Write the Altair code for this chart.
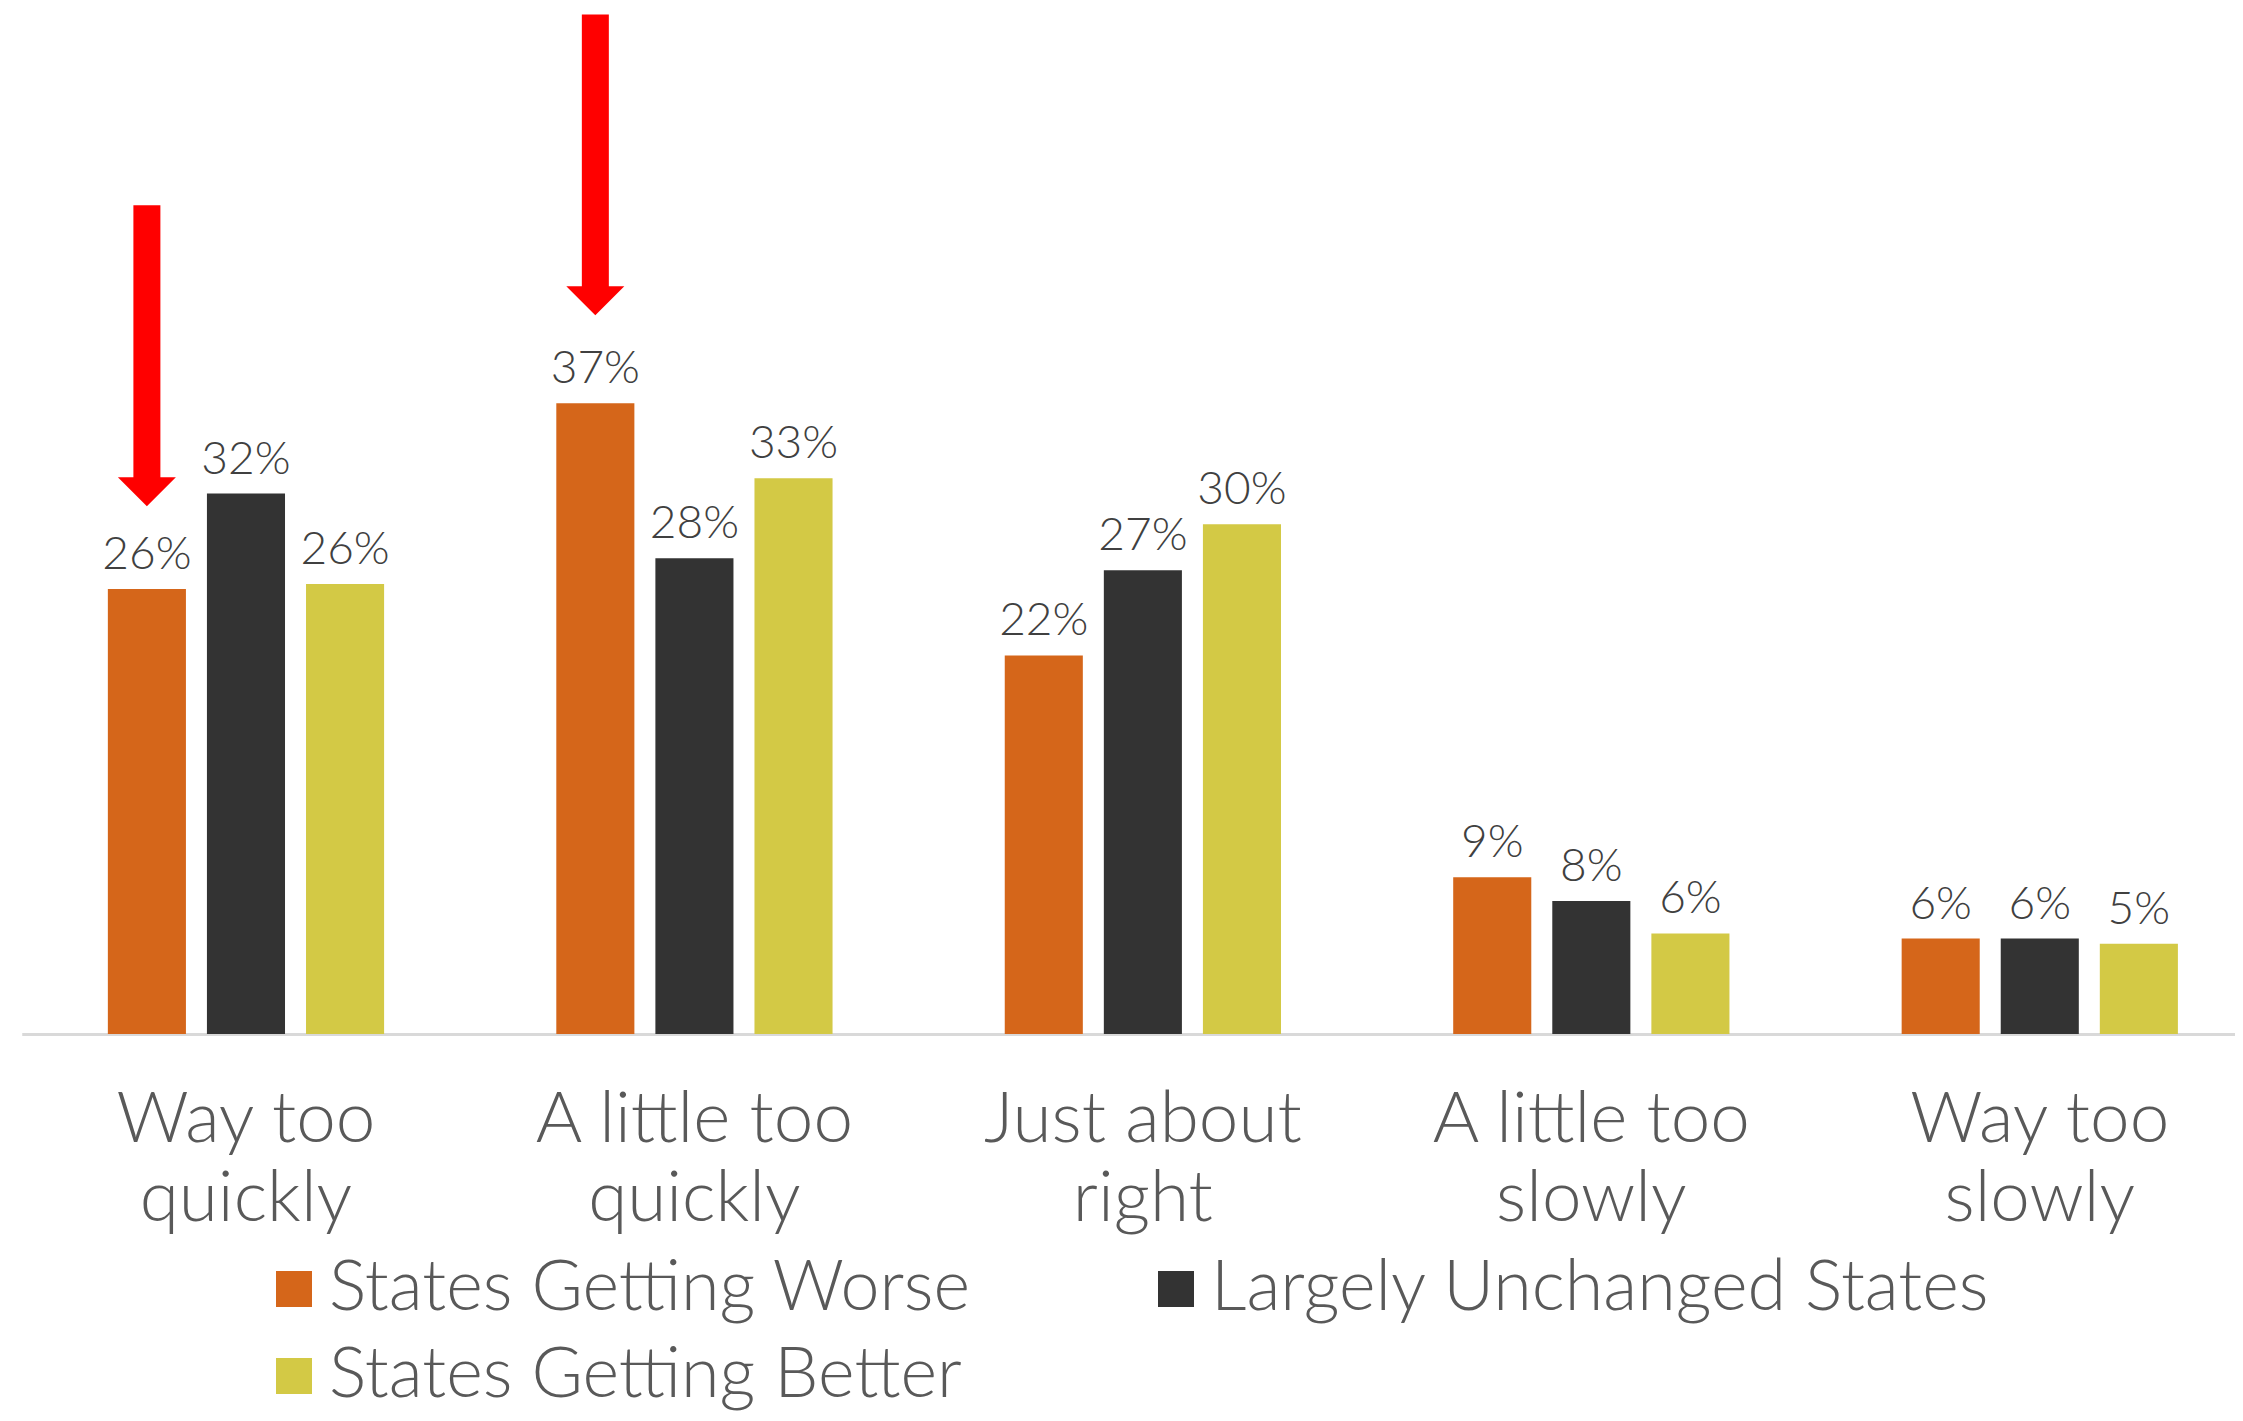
import altair as alt
import pandas as pd

categories = ["Way too quickly", "A little too quickly", "Just about right",
              "A little too slowly", "Way too slowly"]
series = ["States Getting Worse", "Largely Unchanged States", "States Getting Better"]
worse = [26.1, 37.0, 22.2, 9.2, 5.6]
unchanged = [31.7, 27.9, 27.2, 7.8, 5.6]
better = [26.4, 32.6, 29.9, 5.9, 5.3]
colors = ["#D5661A", "#333333", "#D3C945"]

# legend fills column by column: Worse, Better in the first column, Unchanged in the second
legend_order = ["States Getting Worse", "States Getting Better", "Largely Unchanged States"]
legend_colors = ["#D5661A", "#D3C945", "#333333"]

arrow_categories = ["Way too quickly", "A little too quickly"]
arrow_top = [48.6, 59.8]
arrow_shaft_end = [32.4, 43.6]
arrow_head = [31.8, 43.0]

rows = []
for s, vals in zip(series, [worse, unchanged, better]):
    for c, v in zip(categories, vals):
        rows.append({"category": c, "series": s, "value": v})
df = pd.DataFrame(rows)

arrows = pd.DataFrame({
    "category": arrow_categories,
    "series": [series[0]] * len(arrow_categories),
    "top": arrow_top,
    "end": arrow_shaft_end,
    "head": arrow_head,
})

FONT = "Lato"

x = alt.X(
    "category:N",
    sort=categories,
    scale=alt.Scale(domain=categories, range=[13.75, 2256], paddingInner=0.384, paddingOuter=0.192),
    axis=alt.Axis(
        title=None,
        labelAngle=0,
        ticks=False,
        labelExpr="[slice(datum.label, 0, lastindexof(datum.label, ' ')), slice(datum.label, lastindexof(datum.label, ' ') + 1)]",
        labelFont=FONT,
        labelFontSize=71,
        labelFontWeight=300,
        labelLineHeight=79,
        labelColor="#595959",
        labelPadding=51,
        domainColor="#D9D9D9",
        domainWidth=3,
        labelLimit=0,
    ),
)
xo = alt.XOffset("series:N", sort=series,
                 scale=alt.Scale(domain=series, paddingInner=0.212, paddingOuter=0))
y = alt.Y("value:Q", scale=alt.Scale(domain=[0, 60]), axis=None)

base = alt.Chart(df)

bars = base.mark_bar().encode(
    x=x,
    xOffset=xo,
    y=y,
    color=alt.Color(
        "series:N",
        scale=alt.Scale(domain=legend_order, range=legend_colors),
        legend=alt.Legend(
            title=None,
            orient="none",
            legendX=251,
            legendY=1243,
            columns=2,
            symbolType="square",
            symbolSize=1296,
            symbolStrokeWidth=0,
            symbolOpacity=1,
            labelFont=FONT,
            labelFontSize=70,
            labelFontWeight=300,
            labelColor="#595959",
            labelOffset=0,
            labelLimit=0,
            columnPadding=169,
            rowPadding=17,
            padding=0,
        ),
    ),
)

labels = base.mark_text(
    dy=-20, baseline="alphabetic", fontSize=46, font=FONT, fontWeight=300, color="#404040"
).transform_calculate(
    label="format(datum.value, '.0f') + '%'"
).encode(
    x=x, xOffset=xo, y=y, text=alt.Text("label:N")
)

arrow_base = alt.Chart(arrows)
shafts = arrow_base.mark_rule(color="#FF0000", strokeWidth=27, strokeCap="butt").encode(
    x=x, xOffset=xo, y=alt.Y("top:Q", scale=alt.Scale(domain=[0, 60]), axis=None), y2="end:Q"
)
heads = arrow_base.mark_point(
    shape="M-1,-0.5L1,-0.5L0,0.5Z", size=3364, filled=True, color="#FF0000", opacity=1, strokeWidth=0
).encode(
    x=x, xOffset=xo, y=alt.Y("head:Q", scale=alt.Scale(domain=[0, 60]), axis=None)
)

chart = alt.layer(bars, labels, shafts, heads).properties(
    width=2227,
    height=1023,
    autosize=alt.AutoSizeParams(type="none"),
    padding={"left": 0, "top": 3, "right": 0, "bottom": 379},
    background="white",
).configure_view(stroke=None)

chart.save("out.html", embed_options={"renderer": "svg", "actions": False})
